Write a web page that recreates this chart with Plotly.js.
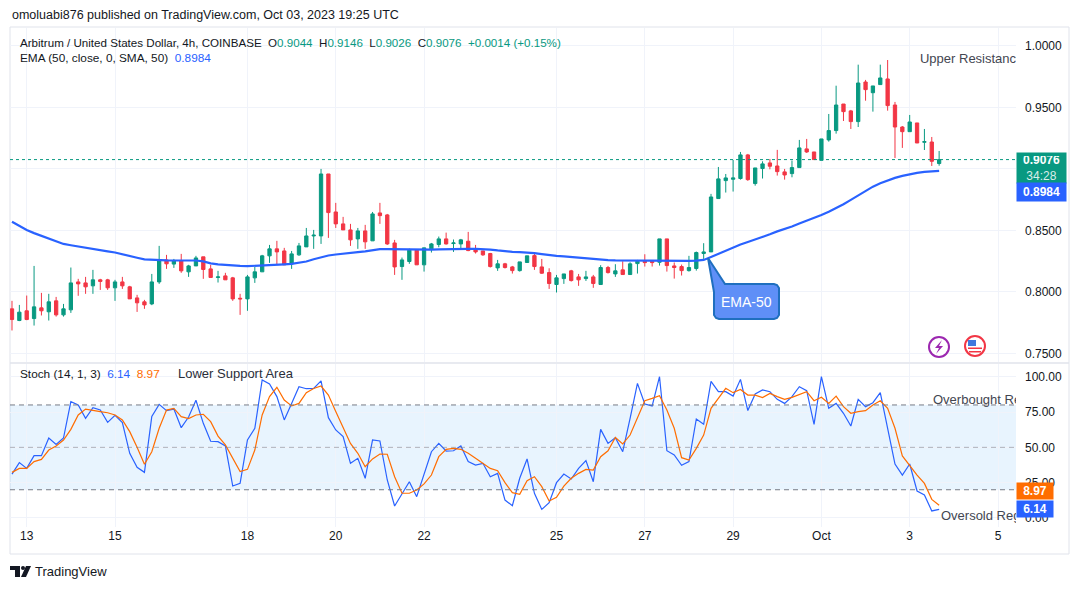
<!DOCTYPE html>
<html>
<head>
<meta charset="utf-8">
<script src="https://cdn.plot.ly/plotly-3.0.1.min.js"></script>
<style>
  html, body { margin: 0; padding: 0; background: #ffffff; }
  #chart { width: 1080px; height: 589px; }
</style>
</head>
<body>
<div id="chart"></div>
<script>
"use strict";

// 4h bars, ARB/USD Coinbase, Sep 12 16:00 -> Oct 3 16:00 (UTC)
const firstBar = "2023-09-12T16:00:00Z";
const barHours = 4;

const openPrices = [
    0.7862, 0.7767, 0.7846, 0.7783, 0.7870, 0.7838, 0.7927, 0.7813, 0.7854, 0.8081,
    0.8073, 0.8049, 0.8098, 0.8098, 0.8033, 0.8081, 0.8041, 0.7951, 0.7919, 0.7902,
    0.8081, 0.8260, 0.8226, 0.8252, 0.8163, 0.8211, 0.8285, 0.8187, 0.8117, 0.8130,
    0.8114, 0.7948, 0.7943, 0.8114, 0.8163, 0.8293, 0.8350, 0.8333, 0.8228, 0.8301,
    0.8366, 0.8455, 0.8455, 0.8959, 0.8650, 0.8553, 0.8504, 0.8431, 0.8496, 0.8415,
    0.8642, 0.8626, 0.8398, 0.8206, 0.8247, 0.8339, 0.8220, 0.8350, 0.8385, 0.8431,
    0.8393, 0.8390, 0.8412, 0.8344, 0.8333, 0.8312, 0.8195, 0.8228, 0.8203, 0.8173,
    0.8239, 0.8295, 0.8203, 0.8157, 0.8060, 0.8108, 0.8171, 0.8122, 0.8108, 0.8122,
    0.8060, 0.8198, 0.8146, 0.8179, 0.8141, 0.8230, 0.8249, 0.8249, 0.8241, 0.8431,
    0.8211, 0.8206, 0.8173, 0.8190, 0.8312, 0.8325, 0.8759, 0.8905, 0.8916, 0.8922,
    0.9114, 0.8881, 0.9003, 0.9049, 0.9024, 0.8976, 0.8962, 0.9011, 0.9163, 0.9138,
    0.9070, 0.9236, 0.9312, 0.9528, 0.9472, 0.9385, 0.9707, 0.9620, 0.9686, 0.9732,
    0.9520, 0.9341, 0.9303, 0.9374, 0.9217, 0.9219, 0.9044
];

const highPrices = [
    0.7927, 0.7894, 0.7970, 0.8211, 0.7992, 0.7984, 0.7959, 0.7902, 0.8198, 0.8106,
    0.8122, 0.8179, 0.8106, 0.8106, 0.8098, 0.8122, 0.8049, 0.7976, 0.7935, 0.8146,
    0.8374, 0.8301, 0.8268, 0.8309, 0.8220, 0.8293, 0.8285, 0.8220, 0.8171, 0.8155,
    0.8122, 0.7984, 0.8138, 0.8203, 0.8301, 0.8382, 0.8415, 0.8358, 0.8333, 0.8398,
    0.8520, 0.8504, 0.9000, 0.8959, 0.8724, 0.8610, 0.8553, 0.8520, 0.8545, 0.8650,
    0.8724, 0.8634, 0.8423, 0.8279, 0.8352, 0.8339, 0.8358, 0.8398, 0.8450, 0.8482,
    0.8426, 0.8431, 0.8488, 0.8382, 0.8333, 0.8317, 0.8260, 0.8236, 0.8211, 0.8244,
    0.8293, 0.8320, 0.8268, 0.8192, 0.8138, 0.8146, 0.8179, 0.8146, 0.8171, 0.8138,
    0.8217, 0.8211, 0.8225, 0.8249, 0.8241, 0.8260, 0.8306, 0.8249, 0.8431, 0.8431,
    0.8239, 0.8222, 0.8293, 0.8328, 0.8396, 0.8797, 0.9016, 0.8959, 0.9073, 0.9138,
    0.9122, 0.9008, 0.9062, 0.9081, 0.9155, 0.9000, 0.9068, 0.9236, 0.9244, 0.9138,
    0.9244, 0.9447, 0.9677, 0.9528, 0.9480, 0.9848, 0.9724, 0.9675, 0.9848, 0.9886,
    0.9545, 0.9349, 0.9439, 0.9374, 0.9325, 0.9260, 0.9146
];

const lowPrices = [
    0.7686, 0.7762, 0.7770, 0.7726, 0.7808, 0.7767, 0.7799, 0.7799, 0.7829, 0.7968,
    0.7984, 0.7984, 0.8016, 0.8016, 0.7927, 0.8024, 0.7943, 0.7837, 0.7862, 0.7892,
    0.8065, 0.8187, 0.8195, 0.8155, 0.8122, 0.8211, 0.8106, 0.8117, 0.8076, 0.8098,
    0.7927, 0.7813, 0.7846, 0.8073, 0.8163, 0.8236, 0.8220, 0.8220, 0.8187, 0.8293,
    0.8366, 0.8350, 0.8390, 0.8439, 0.8520, 0.8504, 0.8374, 0.8350, 0.8350, 0.8415,
    0.8553, 0.8382, 0.8138, 0.8098, 0.8228, 0.8220, 0.8165, 0.8320, 0.8363, 0.8385,
    0.8325, 0.8344, 0.8331, 0.8312, 0.8293, 0.8198, 0.8171, 0.8190, 0.8149, 0.8165,
    0.8239, 0.8179, 0.8146, 0.8024, 0.7995, 0.8065, 0.8084, 0.8049, 0.8089, 0.8033,
    0.8060, 0.8149, 0.8122, 0.8141, 0.8141, 0.8149, 0.8206, 0.8206, 0.8214, 0.8165,
    0.8108, 0.8133, 0.8165, 0.8173, 0.8268, 0.8325, 0.8759, 0.8808, 0.8816, 0.8913,
    0.8903, 0.8864, 0.8922, 0.8997, 0.8946, 0.8913, 0.8932, 0.9011, 0.9130, 0.9076,
    0.9070, 0.9222, 0.9287, 0.9390, 0.9325, 0.9341, 0.9555, 0.9466, 0.9686, 0.9474,
    0.9089, 0.9171, 0.9303, 0.9211, 0.9154, 0.9024, 0.9026
];

const closePrices = [
    0.7775, 0.7835, 0.7775, 0.7878, 0.7846, 0.7919, 0.7813, 0.7862, 0.8073, 0.8065,
    0.8041, 0.8098, 0.8085, 0.8033, 0.8081, 0.8049, 0.7943, 0.7911, 0.7894, 0.8081,
    0.8260, 0.8228, 0.8252, 0.8171, 0.8211, 0.8276, 0.8182, 0.8117, 0.8122, 0.8098,
    0.7943, 0.7943, 0.8122, 0.8163, 0.8293, 0.8350, 0.8325, 0.8220, 0.8309, 0.8374,
    0.8455, 0.8461, 0.8959, 0.8645, 0.8553, 0.8504, 0.8423, 0.8496, 0.8407, 0.8634,
    0.8620, 0.8390, 0.8203, 0.8260, 0.8339, 0.8220, 0.8358, 0.8390, 0.8431, 0.8390,
    0.8398, 0.8423, 0.8336, 0.8325, 0.8301, 0.8206, 0.8228, 0.8198, 0.8173, 0.8244,
    0.8293, 0.8206, 0.8152, 0.8068, 0.8114, 0.8146, 0.8092, 0.8098, 0.8122, 0.8068,
    0.8198, 0.8157, 0.8171, 0.8141, 0.8228, 0.8249, 0.8238, 0.8238, 0.8431, 0.8214,
    0.8198, 0.8173, 0.8198, 0.8320, 0.8325, 0.8772, 0.8919, 0.8927, 0.8927, 0.9114,
    0.8913, 0.9008, 0.9041, 0.9022, 0.8978, 0.8951, 0.9011, 0.9171, 0.9138, 0.9076,
    0.9244, 0.9312, 0.9520, 0.9466, 0.9385, 0.9699, 0.9645, 0.9675, 0.9740, 0.9515,
    0.9341, 0.9303, 0.9382, 0.9211, 0.9222, 0.9062, 0.9076
];

const ema50 = [
    0.8570, 0.8535, 0.8504, 0.8478, 0.8455, 0.8432, 0.8413, 0.8390, 0.8379, 0.8368,
    0.8360, 0.8350, 0.8341, 0.8330, 0.8320, 0.8308, 0.8293, 0.8278, 0.8265, 0.8260,
    0.8258, 0.8256, 0.8255, 0.8255, 0.8254, 0.8255, 0.8248, 0.8232, 0.8224, 0.8218,
    0.8213, 0.8211, 0.8209, 0.8211, 0.8215, 0.8220, 0.8222, 0.8224, 0.8228, 0.8237,
    0.8247, 0.8265, 0.8282, 0.8296, 0.8304, 0.8309, 0.8315, 0.8323, 0.8330, 0.8340,
    0.8348, 0.8348, 0.8347, 0.8346, 0.8344, 0.8342, 0.8341, 0.8343, 0.8346, 0.8348,
    0.8350, 0.8350, 0.8350, 0.8350, 0.8350, 0.8344, 0.8337, 0.8330, 0.8326, 0.8323,
    0.8321, 0.8315, 0.8307, 0.8298, 0.8293, 0.8288, 0.8283, 0.8277, 0.8270, 0.8263,
    0.8260, 0.8258, 0.8256, 0.8255, 0.8254, 0.8253, 0.8253, 0.8252, 0.8252, 0.8252,
    0.8252, 0.8252, 0.8252, 0.8254, 0.8260, 0.8284, 0.8310, 0.8337, 0.8361, 0.8385,
    0.8405, 0.8425, 0.8444, 0.8468, 0.8492, 0.8510, 0.8532, 0.8557, 0.8579, 0.8601,
    0.8625, 0.8652, 0.8681, 0.8713, 0.8748, 0.8784, 0.8819, 0.8856, 0.8883, 0.8908,
    0.8927, 0.8944, 0.8959, 0.8968, 0.8976, 0.8981, 0.8984
];

const stochK = [
    31.1, 39.2, 35.1, 44.1, 44.1, 56.6, 52.1, 56.6, 82.3, 80.0,
    70.5, 78.1, 76.4, 67.7, 72.7, 67.5, 45.8, 35.9, 32.3, 71.9,
    80.4, 76.0, 77.1, 63.9, 71.5, 83.3, 67.0, 54.3, 54.0, 51.0,
    22.6, 24.5, 55.2, 63.5, 97.7, 94.8, 85.9, 69.4, 81.1, 92.9,
    91.5, 91.7, 97.0, 71.0, 62.3, 57.6, 38.7, 42.2, 28.1, 55.2,
    54.5, 26.9, 8.5, 17.5, 25.7, 15.1, 30.4, 46.9, 52.8, 47.4,
    47.6, 51.0, 39.9, 37.5, 38.7, 29.2, 31.6, 12.7, 8.7, 28.1,
    41.8, 17.5, 6.1, 10.8, 25.0, 31.1, 27.6, 35.1, 40.6, 25.7,
    62.7, 52.8, 56.8, 46.9, 70.5, 95.3, 80.7, 79.3, 100, 47.6,
    44.6, 37.3, 39.9, 70.1, 66.3, 96.7, 89.4, 89.4, 86.3, 98.1,
    76.0, 87.8, 90.6, 89.4, 84.0, 81.1, 85.9, 92.9, 90.1, 66.3,
    100, 77.6, 81.1, 74.1, 65.1, 84.0, 78.8, 81.6, 88.7, 64.6,
    38.2, 30.4, 38.2, 19.1, 16.3, 5.0, 6.14
];

const stochD = [
    32.3, 35.1, 35.1, 39.9, 41.5, 48.1, 51.0, 55.2, 62.7, 72.9,
    77.1, 76.0, 75.3, 74.5, 72.9, 69.4, 61.1, 50.0, 38.0, 46.9,
    63.5, 76.4, 77.6, 71.7, 70.3, 72.9, 73.4, 68.2, 58.0, 51.7,
    42.2, 32.8, 34.4, 48.1, 72.9, 85.9, 92.5, 83.5, 79.3, 81.1,
    88.7, 91.7, 93.4, 87.0, 75.3, 64.6, 52.8, 45.8, 36.3, 41.8,
    45.3, 45.1, 29.2, 17.5, 17.5, 19.8, 24.1, 30.4, 43.4, 48.6,
    49.3, 48.6, 45.8, 42.2, 38.7, 35.1, 33.5, 25.0, 17.9, 16.7,
    26.4, 29.2, 22.2, 12.0, 14.6, 22.6, 28.1, 31.6, 34.4, 33.9,
    43.4, 47.6, 57.0, 52.4, 58.7, 70.5, 83.0, 84.7, 86.6, 76.4,
    63.5, 42.7, 41.0, 49.3, 58.7, 77.6, 84.7, 91.8, 88.7, 91.0,
    87.0, 87.0, 85.2, 88.2, 85.9, 84.0, 85.4, 87.5, 89.4, 83.0,
    85.4, 81.1, 86.3, 78.8, 74.1, 75.3, 76.0, 80.0, 83.0, 77.6,
    63.5, 43.9, 36.8, 30.4, 24.5, 13.2, 8.97
];

const dayTicks = [
    "2023-09-13", "2023-09-15", "2023-09-18", "2023-09-20", "2023-09-22",
    "2023-09-25", "2023-09-27", "2023-09-29", "2023-10-01", "2023-10-03", "2023-10-05"
];
const dayLabels = ["13", "15", "18", "20", "22", "25", "27", "29", "Oct", "3", "5"];
const priceTicks = [0.75, 0.80, 0.85, 0.90, 0.95, 1.00];
// 0.9000 sits under the last-price tag on the chart, so its label is hidden
const priceLabels = ["0.7500", "0.8000", "0.8500", "", "0.9500", "1.0000"];
const stochTicks = [0, 25, 50, 75, 100];

const FONT = "Liberation Sans, Arial, sans-serif";
const UP = "#089981";
const DOWN = "#f23645";
const BLUE = "#2962ff";
const ORANGE = "#ff6d00";
const INK = "#131722";
const GRID = "#f0f3fa";
const FRAME = "#e0e3eb";

const W = 1080;
const H = 589;
const M = { l: 10, r: 64, t: 28, b: 62 };

// pixel -> paper helpers for decoration only
const px = (x) => (x - M.l) / (W - M.l - M.r);
const py = (y) => (H - M.b - y) / (H - M.t - M.b);

const start = Date.parse(firstBar);
const times = closePrices.map((_, i) =>
    new Date(start + i * barHours * 3600000)
        .toISOString()
        .slice(0, 16)
        .replace("T", " ")
);

const last = closePrices.length - 1;
const change = closePrices[last] - closePrices[last - 1];
const changePct = (change / closePrices[last - 1]) * 100;
const sign = change >= 0 ? "+" : "";
const sp = "\u00a0\u00a0";
const col = (c, t) => `<span style="color:${c}">${t}</span>`;

const legendMain =
    "Arbitrum / United States Dollar, 4h, COINBASE" + sp +
    "O" + col(UP, openPrices[last].toFixed(4)) + sp +
    "H" + col(UP, highPrices[last].toFixed(4)) + sp +
    "L" + col(UP, lowPrices[last].toFixed(4)) + sp +
    "C" + col(UP, closePrices[last].toFixed(4)) + sp +
    col(UP, `${sign}${change.toFixed(4)} (${sign}${changePct.toFixed(2)}%)`);

const legendEma =
    "EMA (50, close, 0, SMA, 50)" + sp + col(BLUE, ema50[last].toFixed(4));

const legendStoch =
    "Stoch (14, 1, 3)" + sp + col(BLUE, stochK[last].toFixed(2)) + sp +
    col(ORANGE, stochD[last].toFixed(2));

const polyPath = (pts) =>
    pts.map((p, i) =>
        (i ? "L" : "M") + px(p[0]).toFixed(5) + "," + py(p[1]).toFixed(5)
    ).join(" ") + " Z";

const traces = [
    {
        type: "candlestick",
        x: times,
        open: openPrices,
        high: highPrices,
        low: lowPrices,
        close: closePrices,
        xaxis: "x",
        yaxis: "y",
        whiskerwidth: 0,
        increasing: { line: { color: UP, width: 1 }, fillcolor: UP },
        decreasing: { line: { color: DOWN, width: 1 }, fillcolor: DOWN },
        hoverinfo: "skip",
    },
    {
        type: "scatter",
        mode: "lines",
        x: times,
        y: ema50,
        xaxis: "x",
        yaxis: "y",
        line: { color: BLUE, width: 2.2 },
        hoverinfo: "skip",
    },
    {
        type: "scatter",
        mode: "lines",
        x: times,
        y: stochK,
        xaxis: "x",
        yaxis: "y2",
        line: { color: BLUE, width: 1.2 },
        hoverinfo: "skip",
    },
    {
        type: "scatter",
        mode: "lines",
        x: times,
        y: stochD,
        xaxis: "x",
        yaxis: "y2",
        line: { color: ORANGE, width: 1.2 },
        hoverinfo: "skip",
    },
    // drawing-tool labels, clipped at the price scale like on the chart
    {
        type: "scatter",
        mode: "text",
        x: ["2023-10-03 05:35"],
        y: [0.9886],
        text: ["Upper Resistance"],
        textposition: "middle right",
        textfont: { family: FONT, size: 13, color: "#434651" },
        xaxis: "x",
        yaxis: "y",
        cliponaxis: true,
        hoverinfo: "skip",
    },
    {
        type: "scatter",
        mode: "text",
        x: ["2023-10-03 12:40", "2023-10-03 17:00"],
        y: [82.8, 0.7],
        text: ["Overbought Region", "Oversold Region"],
        textposition: "middle right",
        textfont: { family: FONT, size: 13, color: "#434651" },
        xaxis: "x",
        yaxis: "y2",
        cliponaxis: true,
        hoverinfo: "skip",
    },
];

const shapes = [
    // outer frame
    {
        type: "rect", xref: "paper", yref: "paper",
        x0: px(10), x1: px(1069), y0: py(27), y1: py(554),
        line: { color: FRAME, width: 1 }, layer: "below",
    },
    // pane separator
    {
        type: "line", xref: "paper", yref: "paper",
        x0: px(10), x1: px(1069), y0: py(363), y1: py(363),
        line: { color: FRAME, width: 1.5 },
    },
    // stoch band
    {
        type: "rect", xref: "paper", yref: "y2",
        x0: 0, x1: 1, y0: 20, y1: 80,
        fillcolor: "rgba(33,150,243,0.1)", line: { width: 0 }, layer: "below",
    },
    {
        type: "line", xref: "paper", yref: "y2",
        x0: 0, x1: 1, y0: 80, y1: 80,
        line: { color: "#787b86", width: 1, dash: "5px,4px" },
    },
    {
        type: "line", xref: "paper", yref: "y2",
        x0: 0, x1: 1, y0: 50, y1: 50,
        line: { color: "rgba(120,123,134,0.55)", width: 1, dash: "5px,4px" },
    },
    {
        type: "line", xref: "paper", yref: "y2",
        x0: 0, x1: 1, y0: 20, y1: 20,
        line: { color: "#787b86", width: 1, dash: "5px,4px" },
    },
    // last price line
    {
        type: "line", xref: "paper", yref: "y",
        x0: 0, x1: 1, y0: closePrices[last], y1: closePrices[last],
        line: { color: UP, width: 1, dash: "dot" },
    },
    // EMA-50 callout
    {
        type: "path", xref: "paper", yref: "paper",
        path: polyPath([
            [725, 284], [774, 284], [777, 285], [779, 288], [779, 315],
            [777, 318], [774, 319], [719, 319], [716, 318], [714, 315],
            [714, 292], [708, 258],
        ]),
        fillcolor: "#5f8ff7",
        line: { color: "#1f6fbf", width: 2 },
    },
    // lightning icon
    {
        type: "circle", xref: "paper", yref: "paper",
        x0: px(929), x1: px(949), y0: py(357), y1: py(337),
        fillcolor: "#ffffff", line: { color: "#9c27b0", width: 2 },
    },
    {
        type: "path", xref: "paper", yref: "paper",
        path: polyPath([[942, 340], [935, 348], [939, 348], [936, 354], [943, 346], [939, 346]]),
        fillcolor: "#9c27b0", line: { width: 0 },
    },
    // US flag icon
    {
        type: "circle", xref: "paper", yref: "paper",
        x0: px(965), x1: px(985), y0: py(356), y1: py(336),
        fillcolor: "#ffffff", line: { color: DOWN, width: 2 },
    },
    {
        type: "rect", xref: "paper", yref: "paper",
        x0: px(968), x1: px(976), y0: py(346), y1: py(340),
        fillcolor: "#3f78de", line: { width: 0 },
    },
    {
        type: "rect", xref: "paper", yref: "paper",
        x0: px(968), x1: px(982), y0: py(349), y1: py(347.5),
        fillcolor: DOWN, line: { width: 0 },
    },
    {
        type: "rect", xref: "paper", yref: "paper",
        x0: px(969), x1: px(981), y0: py(352.5), y1: py(351),
        fillcolor: DOWN, line: { width: 0 },
    },
    // TradingView logo
    {
        type: "path", xref: "paper", yref: "paper",
        path: polyPath([[10, 566], [20, 566], [20, 577], [15, 577], [15, 570], [10, 570]]),
        fillcolor: INK, line: { width: 0 },
    },
    {
        type: "circle", xref: "paper", yref: "paper",
        x0: px(21), x1: px(25), y0: py(570), y1: py(566),
        fillcolor: INK, line: { width: 0 },
    },
    {
        type: "path", xref: "paper", yref: "paper",
        path: polyPath([[26, 566], [31, 566], [26, 577], [21, 577]]),
        fillcolor: INK, line: { width: 0 },
    },
];

const note = (text, x, y, size, color, extra) => Object.assign({
    text: text,
    xref: "paper", yref: "paper",
    x: px(x), y: py(y),
    xanchor: "left", yanchor: "middle",
    showarrow: false,
    font: { family: FONT, size: size, color: color },
}, extra || {});

const annotations = [
    note("omoluabi876 published on TradingView.com, Oct 03, 2023 19:25 UTC", 10, 15, 12.5, INK),
    note(legendMain, 18, 42, 11.6, INK),
    note(legendEma, 18, 58, 11.8, INK),
    note(legendStoch, 18, 374, 11.8, INK),
    note("Lower Support Area", 176, 373, 13, "#2a2e39"),
    note("EMA-50", 746.5, 301.5, 14, "#ffffff", { xanchor: "center" }),
    note("TradingView", 33, 571, 13, INK),
    // price scale labels
    {
        text: `<b>${closePrices[last].toFixed(4)}</b><br><span style="color:rgba(255,255,255,0.85)">34:28</span>`,
        xref: "paper", yref: "y",
        x: px(1016), y: closePrices[last],
        xanchor: "left", yanchor: "top", yshift: 8,
        showarrow: false, align: "center",
        width: 43, height: 24, borderpad: 3,
        bgcolor: UP,
        font: { family: FONT, size: 12, color: "#ffffff" },
    },
    {
        text: `<b>${ema50[last].toFixed(4)}</b>`,
        xref: "paper", yref: "y",
        x: px(1016), y: closePrices[last],
        xanchor: "left", yanchor: "top", yshift: -22,
        showarrow: false, align: "center",
        width: 43, height: 12, borderpad: 3,
        bgcolor: BLUE,
        font: { family: FONT, size: 12, color: "#ffffff" },
    },
    {
        text: `<b>${stochD[last].toFixed(2)}</b>`,
        xref: "paper", yref: "y2",
        x: px(1016), y: stochK[last],
        xanchor: "left", yanchor: "bottom", yshift: 9,
        showarrow: false, align: "center",
        width: 30, height: 10, borderpad: 3,
        bgcolor: ORANGE,
        font: { family: FONT, size: 12, color: "#ffffff" },
    },
    {
        text: `<b>${stochK[last].toFixed(2)}</b>`,
        xref: "paper", yref: "y2",
        x: px(1016), y: stochK[last],
        xanchor: "left", yanchor: "middle",
        showarrow: false, align: "center",
        width: 30, height: 10, borderpad: 3,
        bgcolor: BLUE,
        font: { family: FONT, size: 12, color: "#ffffff" },
    },
];

const layout = {
    width: W,
    height: H,
    margin: M,
    paper_bgcolor: "#ffffff",
    plot_bgcolor: "#ffffff",
    showlegend: false,
    hovermode: false,
    boxgap: 0.36,
    font: { family: FONT, size: 12, color: INK },
    xaxis: {
        type: "date",
        anchor: "y2",
        range: ["2023-09-12 14:55", "2023-10-05 09:47"],
        tickmode: "array",
        tickvals: dayTicks,
        ticktext: dayLabels,
        ticks: "",
        showgrid: true,
        gridcolor: GRID,
        zeroline: false,
        showline: false,
        rangeslider: { visible: false },
        tickfont: { family: FONT, size: 12, color: INK },
        fixedrange: true,
    },
    yaxis: {
        domain: [0.331, 1],
        range: [0.7431, 1.01463],
        side: "right",
        anchor: "x",
        tickmode: "array",
        tickvals: priceTicks,
        ticktext: priceLabels,
        ticks: "",
        ticklabelstandoff: 8,
        showgrid: true,
        gridcolor: GRID,
        zeroline: false,
        showline: false,
        tickfont: { family: FONT, size: 12, color: INK },
        fixedrange: true,
    },
    yaxis2: {
        domain: [0, 0.3267],
        range: [-6.37, 109.0],
        side: "right",
        anchor: "x",
        tickmode: "array",
        tickvals: stochTicks,
        ticktext: stochTicks.map((v) => v.toFixed(2)),
        ticks: "",
        ticklabelstandoff: 8,
        showgrid: true,
        gridcolor: GRID,
        zeroline: false,
        showline: false,
        tickfont: { family: FONT, size: 12, color: INK },
        fixedrange: true,
    },
    shapes: shapes,
    annotations: annotations,
};

Plotly.newPlot("chart", traces, layout, {
    displayModeBar: false,
    staticPlot: true,
});
</script>
</body>
</html>
